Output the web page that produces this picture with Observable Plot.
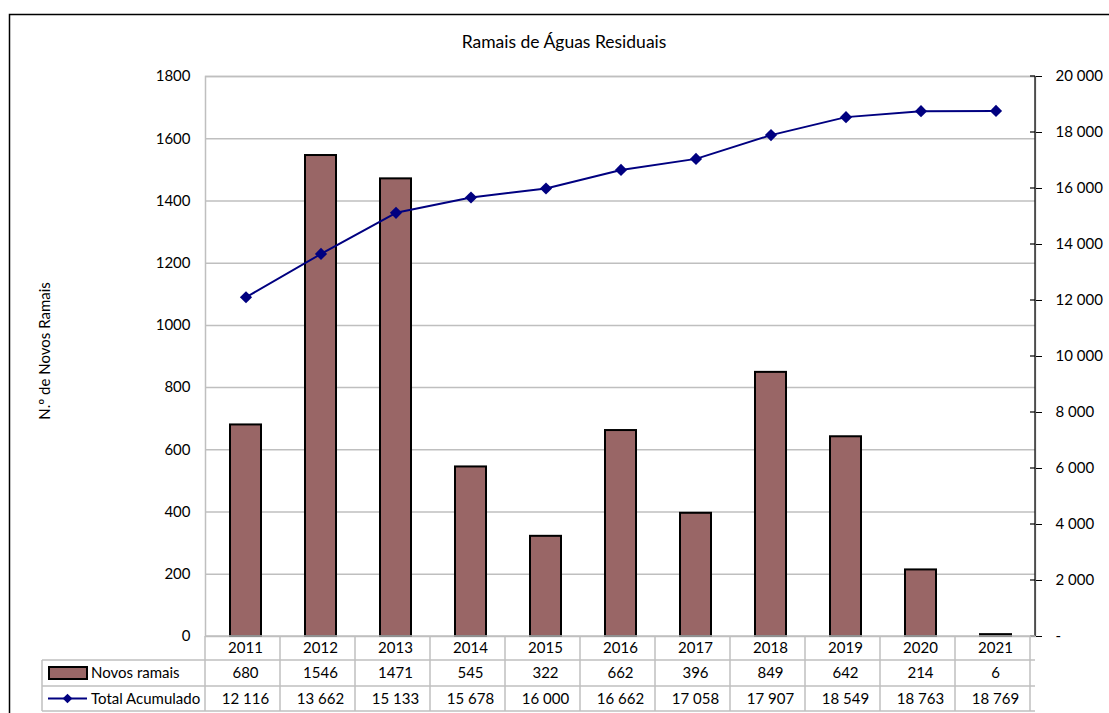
<!DOCTYPE html>
<html>
<head>
<meta charset="utf-8">
<script src="https://cdn.jsdelivr.net/npm/d3@7"></script>
<script src="https://cdn.jsdelivr.net/npm/@observablehq/plot@0.6"></script>
<style>
  html, body { margin: 0; padding: 0; background: #fff; }
  #chart svg { display: block; }
</style>
</head>
<body>
<div id="chart"></div>
<script>
const title = "Ramais de Águas Residuais";
const yLabel = "N.º de Novos Ramais";
const seriesNames = ["Novos ramais", "Total Acumulado"];
const years = ["2011","2012","2013","2014","2015","2016","2017","2018","2019","2020","2021"];
const novos = [680, 1546, 1471, 545, 322, 662, 396, 849, 642, 214, 6];
const total = [12116, 13662, 15133, 15678, 16000, 16662, 17058, 17907, 18549, 18763, 18769];
const leftTicks = [0, 200, 400, 600, 800, 1000, 1200, 1400, 1600, 1800];
const rightTicks = [0, 2000, 4000, 6000, 8000, 10000, 12000, 14000, 16000, 18000, 20000];

const leftMax = 1800, rightMax = 20000;
const k = leftMax / rightMax;
const barColor = "#996666";
const lineColor = "#000080";
const gridColor = "#bfbfbf";
const font = "Lato, 'Open Sans', sans-serif";
const fs = 15;

const data = years.map((y, i) => ({year: y, novos: novos[i], total: total[i]}));
const fmtNum = v => d3.format(",")(v).replace(/,/g, " ");

const W = 1109, H = 713;
const plot = Plot.plot({
  width: W, height: H,
  marginLeft: 205, marginRight: 74, marginTop: 76, marginBottom: 77,
  style: {fontFamily: font, fontSize: fs + "px", background: "#fff", color: "#000"},
  x: {type: "band", domain: years, padding: 0, axis: null},
  y: {domain: [0, leftMax]},
  marks: [
    Plot.ruleY(leftTicks.filter(d => d > 0), {stroke: gridColor, strokeWidth: 1.5}),
    Plot.frame({stroke: gridColor, strokeWidth: 1.5}),
    Plot.barY(data, {x: "year", y: "novos", fill: barColor, stroke: "#000", strokeWidth: 2, insetLeft: 22, insetRight: 22}),
    Plot.line(data, {x: "year", y: d => d.total * k, stroke: lineColor, strokeWidth: 2}),
    Plot.dot(data, {x: "year", y: d => d.total * k, symbol: "diamond2", r: 5.5, fill: lineColor, stroke: "none"}),
    Plot.axisY(leftTicks, {anchor: "left", tickSize: 0, tickPadding: 15, label: null, fontSize: fs, tickFormat: d => String(d)}),
    Plot.axisY(rightTicks.map(v => v * k), {anchor: "right", tickSize: 6, tickPadding: 14, label: null, fontSize: fs, stroke: "#000",
      tickFormat: v => { const r = Math.round(v / k); return r === 0 ? "-" : fmtNum(r); }})
  ]
});
document.getElementById("chart").appendChild(plot);

const xs = plot.scale("x");
const ys = plot.scale("y");
const bw = xs.bandwidth;
const [x0, x1] = xs.range;
const yTop = ys.apply(leftMax), yBase = ys.apply(0);
const svg = d3.select(plot);
const g = svg.append("g").attr("font-family", font).attr("font-size", fs).attr("fill", "#000").attr("text-anchor", "start");

// right axis line (black) and inner half of the cross ticks
g.append("line").attr("x1", x1).attr("x2", x1).attr("y1", yTop).attr("y2", yBase).attr("stroke", "#000").attr("stroke-width", 1.2);
rightTicks.forEach(v => {
  const y = ys.apply(v * k);
  g.append("line").attr("x1", x1 - 5).attr("x2", x1).attr("y1", y).attr("y2", y).attr("stroke", "#000").attr("stroke-width", 1.2);
});

// data table
const rowH = [24, 26, 25];
const r0 = yBase, r1 = r0 + rowH[0], r2 = r1 + rowH[1], r3 = r2 + rowH[2];
const legX = 42;
const tg = g.append("g").attr("stroke", gridColor).attr("stroke-width", 1.5);
tg.append("line").attr("x1", x0).attr("x2", x1).attr("y1", r0).attr("y2", r0);
[r1, r2, r3].forEach(y => tg.append("line").attr("x1", legX).attr("x2", x1).attr("y1", y).attr("y2", y));
for (let i = 0; i <= years.length; i++) {
  const x = x0 + i * bw;
  tg.append("line").attr("x1", x).attr("x2", x).attr("y1", r0).attr("y2", r3);
}
tg.append("line").attr("x1", legX).attr("x2", legX).attr("y1", r1).attr("y2", r3);

const rowMid = [(r0 + r1) / 2, (r1 + r2) / 2, (r2 + r3) / 2];
years.forEach((y, i) => {
  const cx = xs.apply(y) + bw / 2;
  [y, String(novos[i]), fmtNum(total[i])].forEach((t, j) => {
    g.append("text").attr("x", cx).attr("y", rowMid[j]).attr("dy", "0.35em").attr("text-anchor", "middle").text(t);
  });
});

// legend keys in table
g.append("rect").attr("x", 49).attr("y", rowMid[1] - 6).attr("width", 38).attr("height", 12)
  .attr("fill", barColor).attr("stroke", "#000").attr("stroke-width", 2);
g.append("text").attr("x", 91).attr("y", rowMid[1]).attr("dy", "0.35em").attr("text-anchor", "start").text(seriesNames[0]);
g.append("line").attr("x1", 48).attr("x2", 87).attr("y1", rowMid[2]).attr("y2", rowMid[2]).attr("stroke", lineColor).attr("stroke-width", 2);
g.append("path").attr("d", d3.symbol(d3.symbolDiamond2, 60)()).attr("transform", `translate(67.5,${rowMid[2]})`).attr("fill", lineColor);
g.append("text").attr("x", 91).attr("y", rowMid[2]).attr("dy", "0.35em").attr("text-anchor", "start").text(seriesNames[1]);

// title and y label
g.append("text").attr("x", 564).attr("y", 42).attr("dy", "0.35em").attr("text-anchor", "middle").attr("font-size", 17.5).text(title);
g.append("text").attr("transform", "translate(45,351) rotate(-90)").attr("dy", "0.35em").attr("text-anchor", "middle").attr("font-size", 15).text(yLabel);

// outer chart border
g.append("path").attr("d", `M9.5,${H} V14.5 H${W}`).attr("fill", "none").attr("stroke", "#000").attr("stroke-width", 1.5);
</script>
</body>
</html>
